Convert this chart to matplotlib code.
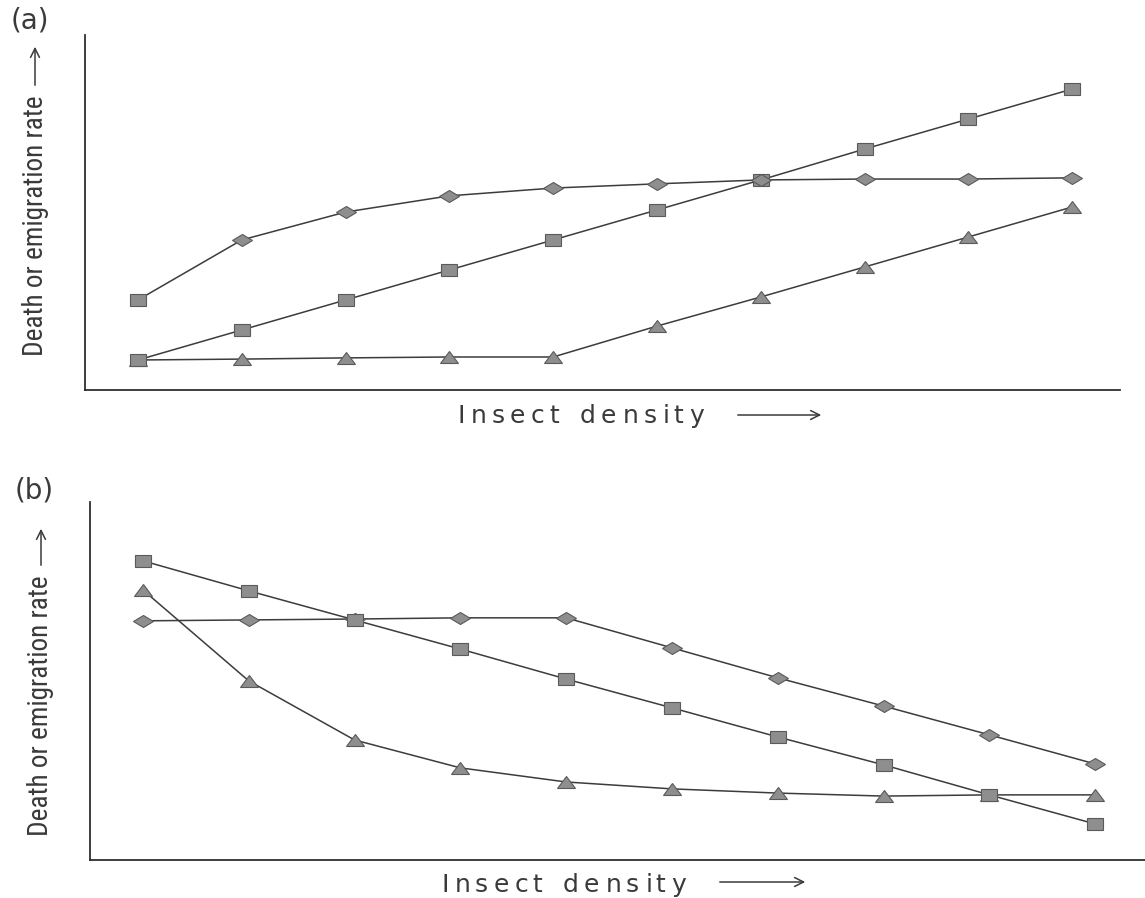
import matplotlib
matplotlib.use("Agg")
import matplotlib.pyplot as plt
from matplotlib.markers import MarkerStyle
from matplotlib.transforms import Affine2D
from matplotlib.font_manager import FontProperties, findfont, get_font, fontManager

W, H, DPI = 1145, 898, 100

# ---- data -------------------------------------------------------------
density = list(range(1, 11))

# (a) rates rising with density
a_diamond = [30, 50, 59.3, 64.7, 67.3, 68.7, 70, 70.3, 70.3, 70.7]
a_square = [10, 20, 30, 40, 50, 60, 70, 80.3, 90.3, 100.3]
a_triangle = [10, 10.3, 10.7, 11, 11, 21.3, 31, 41, 51, 61]

# (b) rates falling with density
b_square = [99.7, 89.7, 80, 70.3, 60.3, 50.7, 41, 31.7, 21.7, 12]
b_triangle = [90, 59.7, 40, 30.7, 26, 23.7, 22.3, 21.3, 21.7, 21.7]
b_diamond = [79.7, 80, 80.3, 80.7, 80.7, 70.7, 60.7, 51.3, 41.7, 32]

panel_labels = ["(a)", "(b)"]
y_label = "Death or emigration rate"
x_label = "Insect density"

# ---- styles -----------------------------------------------------------
LINE = "#3c3c3c"
FILL = "#8e8e8e"
EDGE = "#5a5a5a"
TEXT = "#3a3a3a"

SQ = MarkerStyle("s", transform=Affine2D().scale(1.45, 1.0))
DI = MarkerStyle("D", transform=Affine2D().scale(1.5, 1.0))
TR = MarkerStyle("^", transform=Affine2D().scale(1.5, 1.0))
MS = {"s": 8, "D": 6.5, "^": 8.5}


def pick_narrow_font():
    """Prefer a condensed sans face for the rotated axis label."""
    names = {f.name for f in fontManager.ttflist}
    for cand in ("Liberation Sans Narrow", "Roboto Condensed",
                 "DejaVu Sans Condensed", "Open Sans Condensed",
                 "Noto Sans Condensed"):
        if cand in names:
            return FontProperties(family=cand)
    for f in fontManager.ttflist:
        if f.stretch in ("condensed", "semi-condensed", "extra-condensed") \
                and f.style == "normal" and f.weight in (400, "normal", "regular"):
            return FontProperties(fname=f.fname)
    return FontProperties(family="Liberation Sans")


def series(ax, x, y, markers):
    ax.plot(x, y, "-", color=LINE, lw=1.1, zorder=2)
    for xi, yi, m in zip(x, y, markers):
        style = {"s": SQ, "D": DI, "^": TR}[m]
        ax.plot([xi], [yi], linestyle="none", marker=style, ms=MS[m],
                mfc=FILL, mec=EDGE, mew=0.8, zorder=3)


def style_axes(ax):
    for side in ("top", "right"):
        ax.spines[side].set_visible(False)
    for side in ("left", "bottom"):
        ax.spines[side].set_color("#2e2e2e")
        ax.spines[side].set_linewidth(1.3)
    ax.set_xticks([])
    ax.set_yticks([])


def tracked_text(fig, x0, x1, y_base, s, size, family="DejaVu Sans", color=TEXT):
    """Letter-spaced text spanning pixel range x0..x1 (figure pixels)."""
    prop = FontProperties(family=family, size=size)
    font = get_font(findfont(prop))
    font.set_size(size, DPI)
    adv, bear = [], []
    for ch in s:
        g = font.load_char(ord(ch))
        adv.append(g.linearHoriAdvance / 65536)
        bear.append(g.horiBearingX / 64)
    natural = sum(adv[:-1]) + (adv[-1] - bear[-1])
    track = (x1 - x0 - natural) / (len(s) - 1)
    pen = x0 - bear[0]
    for ch, a, b in zip(s, adv, bear):
        if ch != " ":
            fig.text((pen + b) / W, y_base / H, ch, fontproperties=prop,
                     color=color, ha="left", va="baseline")
        pen += a + track


def vertical_label(fig, x_c, y_lo, y_hi, s, prop):
    """Rotated label fitted to the pixel span y_lo..y_hi."""
    t = fig.text(x_c / W, (y_lo + y_hi) / 2 / H, s, rotation=90,
                 fontproperties=prop, color=TEXT, ha="center", va="center")
    t.set_fontsize(20)
    r = fig.canvas.get_renderer()
    span = t.get_window_extent(r).height
    t.set_fontsize(20 * (y_hi - y_lo) / span)
    return t


def arrow(fig, x0, y0, x1, y1):
    fig.add_artist(matplotlib.patches.FancyArrowPatch(
        (x0 / W, y0 / H), (x1 / W, y1 / H), transform=fig.transFigure,
        arrowstyle="->", mutation_scale=16, lw=1.1, color=TEXT))


fig = plt.figure(figsize=(W / DPI, H / DPI), dpi=DPI)
fig.patch.set_facecolor("white")

# ---- panel (a) --------------------------------------------------------
ax_a = fig.add_axes([85 / W, 1 - 390 / H, 1035 / W, 355 / H])
style_axes(ax_a)
ax_a.set_xlim(0.49, 10.46)
ax_a.set_ylim(0, 118.3)
series(ax_a, density, a_triangle, ["^"] * 10)
series(ax_a, density, a_square, ["s"] * 10)
series(ax_a, density, a_diamond, ["s"] + ["D"] * 9)

# ---- panel (b) --------------------------------------------------------
ax_b = fig.add_axes([90 / W, 1 - 860 / H, 1055 / W, 358 / H])
style_axes(ax_b)
ax_b.set_xlim(0.5, 10.47)
ax_b.set_ylim(0, 119.3)
series(ax_b, density, b_diamond, ["D"] * 10)
series(ax_b, density, b_triangle, ["^"] * 10)
series(ax_b, density, b_square, ["s"] * 10)

# ---- labels -----------------------------------------------------------
narrow = pick_narrow_font()

fig.text(11 / W, (H - 20) / H, panel_labels[0], fontsize=20, color=TEXT,
         ha="left", va="center", family="DejaVu Sans")
fig.text(15 / W, (H - 490) / H, panel_labels[1], fontsize=20, color=TEXT,
         ha="left", va="center", family="DejaVu Sans")

vertical_label(fig, 36, H - 356, H - 96, y_label, narrow)
arrow(fig, 35, H - 88, 35, H - 44)
vertical_label(fig, 41, H - 836, H - 576, y_label, narrow)
arrow(fig, 41, H - 568, 41, H - 526)

tracked_text(fig, 458, 705, H - 423, x_label, 18)
arrow(fig, 735, H - 415, 824, H - 415)
tracked_text(fig, 442, 687, H - 892, x_label, 18)
arrow(fig, 717, H - 882, 808, H - 882)

fig.savefig("out.png", dpi=DPI)
